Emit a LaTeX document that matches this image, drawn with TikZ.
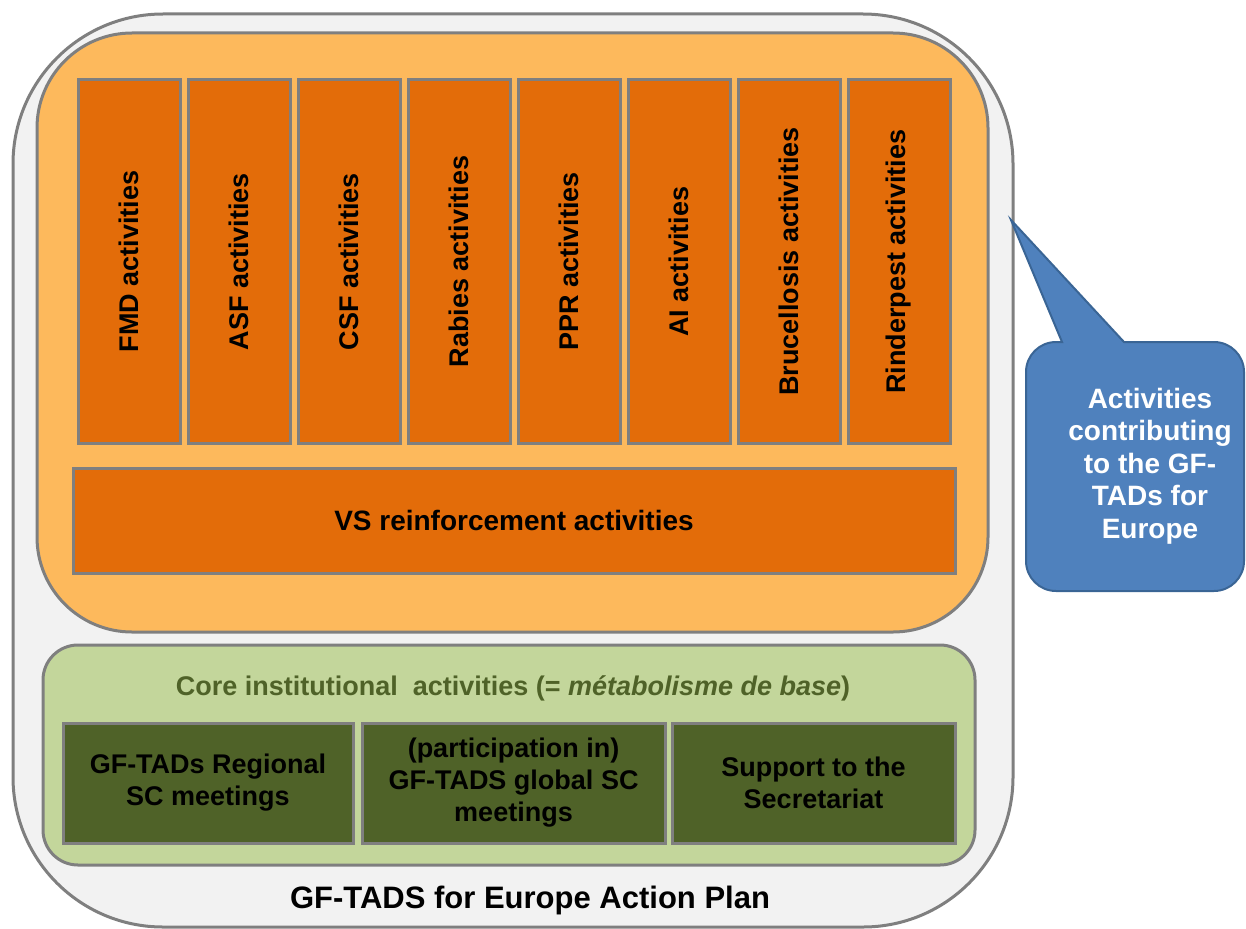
\documentclass[tikz,border=0pt]{standalone}
\usepackage{fontspec}
\setmainfont{Liberation Sans}

\definecolor{panel}{HTML}{F2F2F2}
\definecolor{lightorange}{HTML}{FDB95C}
\definecolor{darkorange}{HTML}{E36C09}
\definecolor{lightgreen}{HTML}{C3D69B}
\definecolor{darkgreen}{HTML}{4F6228}
\definecolor{edge}{HTML}{7F7F7F}
\definecolor{callout}{HTML}{4F81BD}
\definecolor{calloutedge}{HTML}{3A6595}

\tikzset{disease/.style={draw=edge, line width=3pt, fill=darkorange, rotate=90, minimum width=363pt, minimum height=102pt, inner sep=0pt, font=\bfseries\fontsize{27}{30}\selectfont},
	core/.style={draw=edge, line width=3pt, fill=darkgreen, minimum height=120pt, inner sep=0pt, align=center, font=\bfseries\fontsize{27}{32}\selectfont}}

\begin{document}
\begin{tikzpicture}[x=1pt, y=-1pt]
	\useasboundingbox (0,0) rectangle (1246,928);
	% frames
	\draw[edge, line width=3pt, fill=panel, rounded corners=150pt] (13,14) rectangle (1013,927);
	\draw[edge, line width=3pt, fill=lightorange, rounded corners=95pt] (37,33) rectangle (988,632);
	\draw[edge, line width=3pt, fill=lightgreen, rounded corners=35pt] (43,645) rectangle (975,865);
	% diseases
	\node[disease] (fmd) at (129,261.5) {FMD activities};
	\node[disease] (asf) at (239,261.5) {ASF activities};
	\node[disease] (csf) at (349,261.5) {CSF activities};
	\node[disease] (rab) at (459,261.5) {Rabies activities};
	\node[disease] (ppr) at (569,261.5) {PPR activities};
	\node[disease] (ai) at (679,261.5) {AI activities};
	\node[disease] (bru) at (789,261.5) {Brucellosis activities};
	\node[disease] (rin) at (899,261.5) {Rinderpest activities};
	\node[disease, rotate=-90, minimum width=882pt, minimum height=105pt, font=\bfseries\fontsize{28}{32}\selectfont] (vs) at (514,520.5) {VS reinforcement activities};
	% core activities
	\node[text=darkgreen, font=\bfseries\fontsize{27}{30}\selectfont] (coretitle) at (513,688) {Core institutional\ \ activities (= \textit{métabolisme de base})};
	\node[core, minimum width=290pt] (c1) at (208,783) {GF-TADs Regional\\SC meetings};
	\node[core, minimum width=303pt] (c2) at (513.5,783) {(participation in)\\GF-TADS global SC\\meetings};
	\node[core, minimum width=283pt] (c3) at (813.5,783) {Support to the\\Secretariat};
	\node[anchor=base, font=\bfseries\fontsize{31}{36}\selectfont] (plan) at (530,908) {GF-TADS for Europe Action Plan};
	% callout
	\coordinate (tip) at (1011,220);
	\draw[calloutedge, line width=2pt, fill=callout, rounded corners=30pt] (1180,342) -- (1244,342) -- (1244,591) -- (1026,591) -- (1026,342) [sharp corners] -- (1062,342) -- (tip) -- (1124,342) [rounded corners=30pt] -- cycle;
	\node[text=white, align=center, font=\bfseries\fontsize{28}{32.5}\selectfont] (note) at (1150,466) {Activities\\contributing\\to the GF-\\TADs for\\Europe};
\end{tikzpicture}
\end{document}
